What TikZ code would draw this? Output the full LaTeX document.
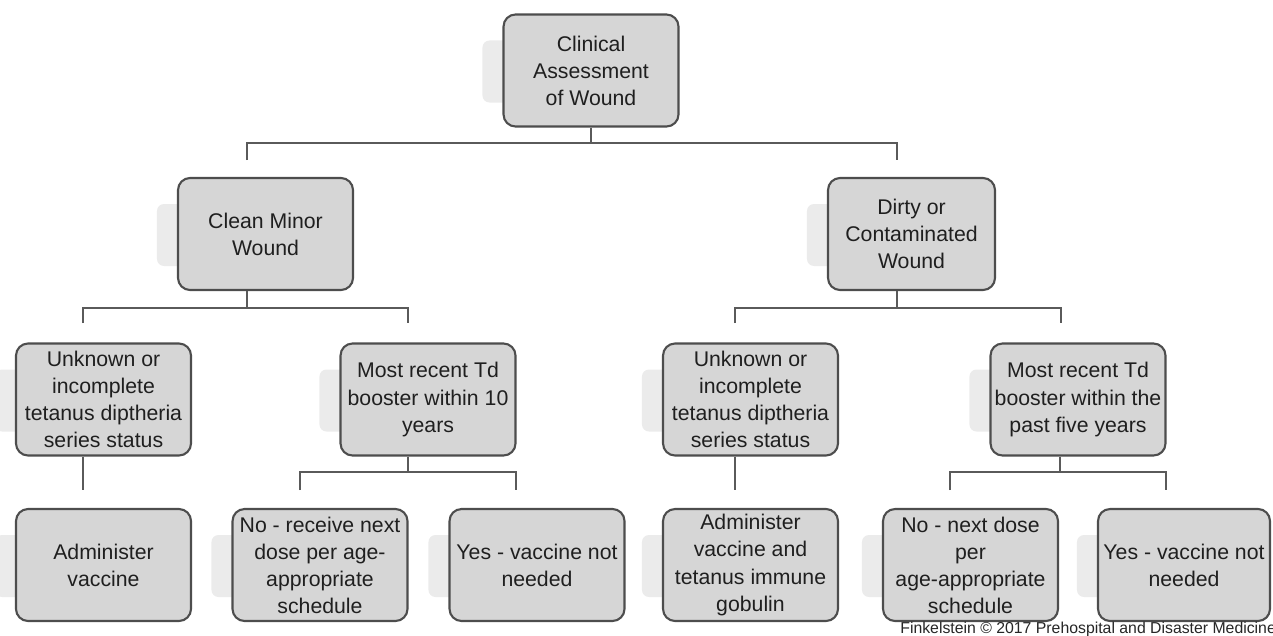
\documentclass[tikz,border=0pt]{standalone}
\usepackage{fontspec}
\setmainfont{Liberation Sans}
\usetikzlibrary{positioning,calc,backgrounds}
\definecolor{boxfill}{HTML}{D6D6D6}
\definecolor{boxline}{HTML}{4D4D4D}
\definecolor{linkgray}{HTML}{5A5A5A}
\definecolor{ghostgray}{HTML}{EBEBEB}
\tikzset{
  box/.style={draw=boxline, line width=1.2pt, fill=boxfill, rounded corners=0.24cm,
    minimum width=3.5cm, minimum height=2.24cm, inner sep=2pt, align=center,
    text=black!88, font=\fontsize{12.1}{15.4}\selectfont},
  link/.style={draw=linkgray, line width=1.1pt}
}

\begin{document}
\begin{tikzpicture}[x=0.02cm,y=-0.02cm]
  \useasboundingbox (0,0) rectangle (1273,635);
  % boxes
  \node [box] (root) at (591,70.5) {Clinical\\Assessment\\of Wound};
  \node [box] (clean) at (265.5,234) {Clean Minor\\Wound};
  \node [box,minimum width=3.34cm] (dirty) at (911.5,234) {Dirty or\\Contaminated\\Wound};
  \node [box] (unkL) at (103.5,399.5) {Unknown or\\incomplete\\tetanus diptheria\\series status};
  \node [box] (tdL) at (428,399.5) {Most recent Td\\booster within 10\\years};
  \node [box] (unkR) at (750.5,399.5) {Unknown or\\incomplete\\tetanus diptheria\\series status};
  \node [box] (tdR) at (1078,399.5) {Most recent Td\\booster within the\\past five years};
  \node [box] (admL) at (103.5,565) {Administer\\vaccine};
  \node [box] (noL) at (320,565) {No - receive next\\dose per age-\\appropriate\\schedule};
  \node [box] (yesL) at (537,565) {Yes - vaccine not\\needed};
  \node [box] (admR) at (750.5,565) {Administer\\vaccine and\\tetanus immune\\gobulin};
  \node [box] (noR) at (970.5,565) {No - next dose\\per\\age-appropriate\\schedule};
  \node [box,minimum width=3.44cm] (yesR) at (1184,565) {Yes - vaccine not\\needed};
  \node [anchor=base west,font=\fontsize{9}{10}\selectfont,text=black!85,inner sep=0pt] (credit)
        at (900,633) {Finkelstein \textcopyright{} 2017 Prehospital and Disaster Medicine};

  % faint shadows to the left of the boxes
  \begin{scope}[on background layer]
    \foreach \n in {root,clean,dirty,unkL,tdL,unkR,tdR,admL,noL,yesL,admR,noR,yesR}
      \fill [ghostgray, rounded corners=4pt] ($(\n.west)+(-20,-30)$) rectangle ($(\n.center)+(0,32)$);
  \end{scope}

  % junctions and stub ends
  \coordinate (r) at (591,143);
  \coordinate (cleanTop) at (247,160);
  \coordinate (dirtyTop) at (897,160);
  \coordinate (c) at (247,308);
  \coordinate (unkLTop) at (83,323);
  \coordinate (tdLTop) at (408,323);
  \coordinate (d) at (897,308);
  \coordinate (unkRTop) at (735,323);
  \coordinate (tdRTop) at (1061,323);
  \coordinate (admLTop) at (83,490);
  \coordinate (admRTop) at (735,490);
  \coordinate (tl) at (408,472);
  \coordinate (noLTop) at (300,490);
  \coordinate (yesLTop) at (516,490);
  \coordinate (tr) at (1060,472);
  \coordinate (noRTop) at (950,490);
  \coordinate (yesRTop) at (1166,490);

  % connectors
  \draw [link] (root.south) -- (r);
  \draw [link] (cleanTop) |- (r) -| (dirtyTop);
  \draw [link] (clean.south -| c) -- (c);
  \draw [link] (unkLTop) |- (c) -| (tdLTop);
  \draw [link] (dirty.south -| d) -- (d);
  \draw [link] (unkRTop) |- (d) -| (tdRTop);
  \draw [link] (unkL.south -| admLTop) -- (admLTop);
  \draw [link] (unkR.south -| admRTop) -- (admRTop);
  \draw [link] (tdL.south -| tl) -- (tl);
  \draw [link] (noLTop) |- (tl) -| (yesLTop);
  \draw [link] (tdR.south -| tr) -- (tr);
  \draw [link] (noRTop) |- (tr) -| (yesRTop);
\end{tikzpicture}
\end{document}
